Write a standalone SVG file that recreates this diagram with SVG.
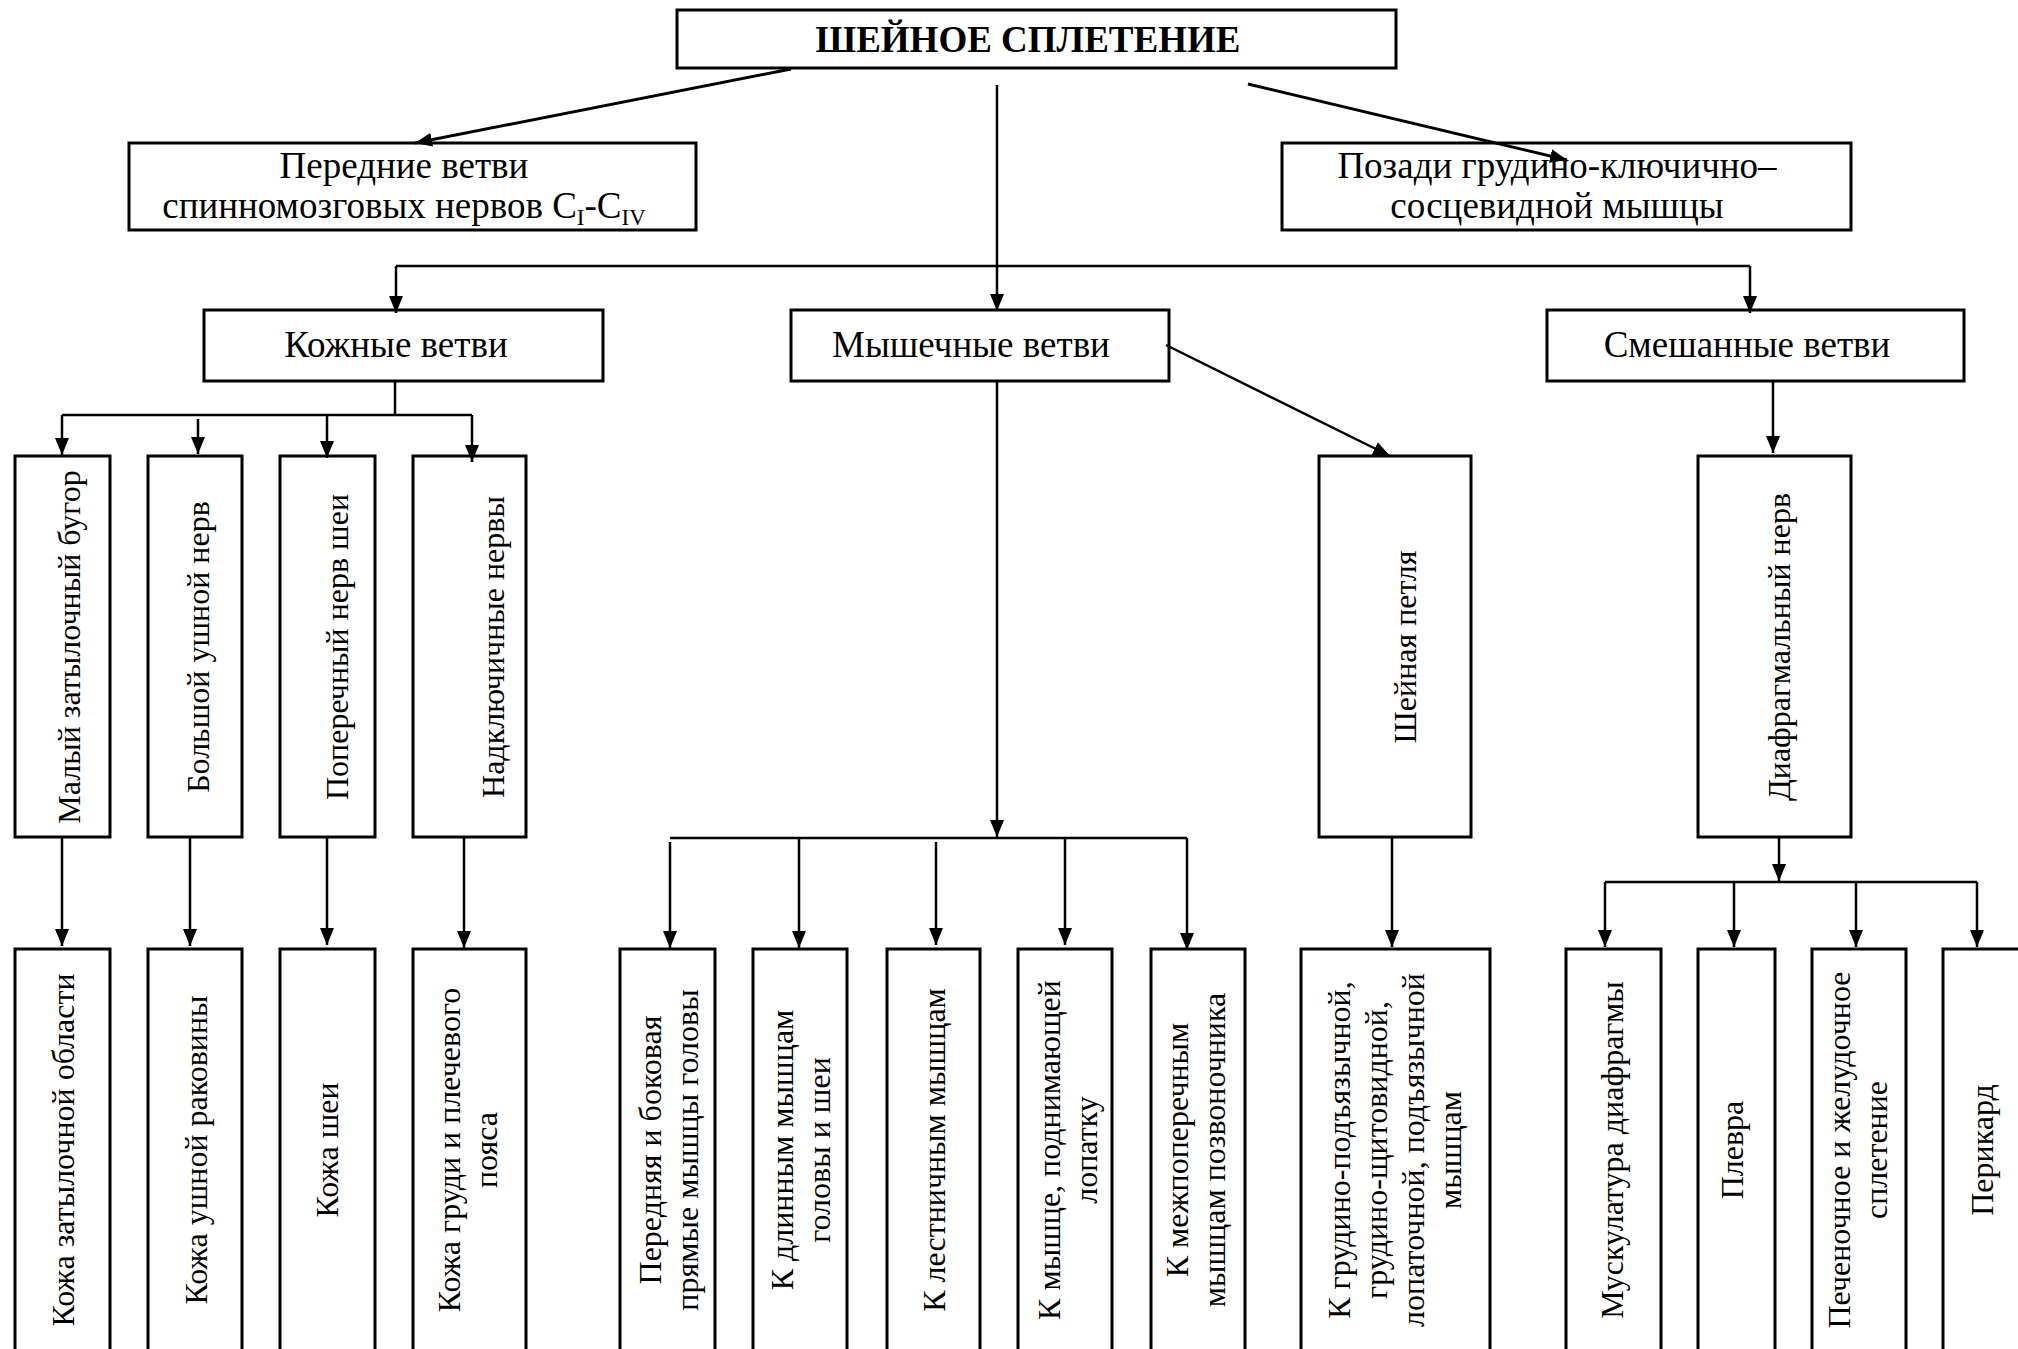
<svg xmlns="http://www.w3.org/2000/svg" width="2018" height="1349" viewBox="0 0 2018 1349">
  <style>
    .box { fill: #fff; stroke: #000; stroke-width: 3; }
    .c { fill: none; stroke: #000; stroke-width: 2.5; }
    .d { fill: none; stroke: #000; stroke-width: 3; }
    .a { marker-end: url(#arr); }
    .h { font-family: "Liberation Serif", "Times New Roman", serif; font-size: 37px; text-anchor: middle; fill: #000; }
    .t { font-weight: bold; }
    .v { font-family: "Liberation Serif", "Times New Roman", serif; font-size: 32px; text-anchor: middle; fill: #000; }
  </style>
  <defs>
    <marker id="arr" markerUnits="userSpaceOnUse" markerWidth="18" markerHeight="14" refX="17" refY="7" orient="auto">
      <path d="M0,0 L17,7 L0,14 z" fill="#000"/>
    </marker>
  </defs>
  <rect width="2018" height="1349" fill="#fff"/>

  <!-- top level -->
  <g id="n-plexus">
    <rect class="box" x="677" y="10" width="719" height="58"/>
    <text class="h t" x="1028" y="52">ШЕЙНОЕ СПЛЕТЕНИЕ</text>
  </g>
  <g id="n-anterior">
    <rect class="box" x="129" y="143" width="567" height="87"/>
    <text class="h" x="404" y="178">Передние ветви</text>
    <text class="h" x="404" y="218">спинномозговых нервов C<tspan font-size="23" dy="7">I</tspan><tspan dy="-7">-C</tspan><tspan font-size="23" dy="7">IV</tspan></text>
  </g>
  <g id="n-behind">
    <rect class="box" x="1282" y="143" width="569" height="87"/>
    <text class="h" x="1557" y="178">Позади грудино-ключично–</text>
    <text class="h" x="1557" y="218">сосцевидной мышцы</text>
  </g>

  <!-- branch groups -->
  <g id="n-cutaneous">
    <rect class="box" x="204" y="310" width="399" height="71"/>
    <text class="h" x="396" y="357">Кожные ветви</text>
  </g>
  <g id="n-muscular">
    <rect class="box" x="791" y="310" width="378" height="71"/>
    <text class="h" x="971" y="357">Мышечные ветви</text>
  </g>
  <g id="n-mixed">
    <rect class="box" x="1547" y="310" width="417" height="71"/>
    <text class="h" x="1747" y="357">Смешанные ветви</text>
  </g>

  <!-- nerves -->
  <g id="n-lesser-occipital">
    <rect class="box" x="15" y="456" width="95" height="381"/>
    <text class="v" transform="translate(80,647) rotate(-90)">Малый затылочный бугор</text>
  </g>
  <g id="n-great-auricular">
    <rect class="box" x="148" y="456" width="94" height="381"/>
    <text class="v" transform="translate(209,647) rotate(-90)">Большой ушной нерв</text>
  </g>
  <g id="n-transverse">
    <rect class="box" x="280" y="456" width="95" height="381"/>
    <text class="v" transform="translate(348,647) rotate(-90)">Поперечный нерв шеи</text>
  </g>
  <g id="n-supraclavicular">
    <rect class="box" x="413" y="456" width="113" height="381"/>
    <text class="v" transform="translate(504,647) rotate(-90)">Надключичные нервы</text>
  </g>
  <g id="n-ansa">
    <rect class="box" x="1319" y="456" width="152" height="381"/>
    <text class="v" transform="translate(1416,647) rotate(-90)">Шейная петля</text>
  </g>
  <g id="n-phrenic">
    <rect class="box" x="1698" y="456" width="153" height="381"/>
    <text class="v" transform="translate(1790,647) rotate(-90)">Диафрагмальный нерв</text>
  </g>

  <!-- targets -->
  <g id="n-skin-occipital">
    <rect class="box" x="15" y="949" width="95" height="420"/>
    <text class="v" transform="translate(74,1150) rotate(-90)">Кожа затылочной области</text>
  </g>
  <g id="n-skin-auricle">
    <rect class="box" x="148" y="949" width="94" height="420"/>
    <text class="v" transform="translate(207,1150) rotate(-90)">Кожа ушной раковины</text>
  </g>
  <g id="n-skin-neck">
    <rect class="box" x="280" y="949" width="95" height="420"/>
    <text class="v" transform="translate(338,1150) rotate(-90)">Кожа шеи</text>
  </g>
  <g id="n-skin-chest">
    <rect class="box" x="413" y="949" width="113" height="420"/>
    <text class="v" transform="translate(460,1150) rotate(-90)"><tspan x="0" y="0">Кожа груди и плечевого</tspan><tspan x="0" y="37">пояса</tspan></text>
  </g>
  <g id="n-rectus-capitis">
    <rect class="box" x="620" y="949" width="95" height="420"/>
    <text class="v" transform="translate(661,1150) rotate(-90)"><tspan x="0" y="0">Передняя и боковая</tspan><tspan x="0" y="37">прямые мышцы головы</tspan></text>
  </g>
  <g id="n-longus">
    <rect class="box" x="753" y="949" width="94" height="420"/>
    <text class="v" transform="translate(793,1150) rotate(-90)"><tspan x="0" y="0">К длинным мышцам</tspan><tspan x="0" y="37">головы и шеи</tspan></text>
  </g>
  <g id="n-scalene">
    <rect class="box" x="887" y="949" width="93" height="420"/>
    <text class="v" transform="translate(945,1150) rotate(-90)">К лестничным мышцам</text>
  </g>
  <g id="n-levator">
    <rect class="box" x="1018" y="949" width="94" height="420"/>
    <text class="v" transform="translate(1060,1150) rotate(-90)"><tspan x="0" y="0">К мышце, поднимающей</tspan><tspan x="0" y="37">лопатку</tspan></text>
  </g>
  <g id="n-intertransverse">
    <rect class="box" x="1151" y="949" width="94" height="420"/>
    <text class="v" transform="translate(1188,1150) rotate(-90)"><tspan x="0" y="0">К межпоперечным</tspan><tspan x="0" y="37">мышцам позвоночника</tspan></text>
  </g>
  <g id="n-infrahyoid">
    <rect class="box" x="1301" y="949" width="189" height="420"/>
    <text class="v" transform="translate(1350,1150) rotate(-90)"><tspan x="0" y="0">К грудино-подъязычной,</tspan><tspan x="0" y="37">грудино-щитовидной,</tspan><tspan x="0" y="74">лопаточной, подъязычной</tspan><tspan x="0" y="111">мышцам</tspan></text>
  </g>
  <g id="n-diaphragm">
    <rect class="box" x="1566" y="949" width="95" height="420"/>
    <text class="v" transform="translate(1623,1150) rotate(-90)">Мускулатура диафрагмы</text>
  </g>
  <g id="n-pleura">
    <rect class="box" x="1698" y="949" width="77" height="420"/>
    <text class="v" transform="translate(1743,1150) rotate(-90)">Плевра</text>
  </g>
  <g id="n-hepatic-gastric">
    <rect class="box" x="1812" y="949" width="94" height="420"/>
    <text class="v" transform="translate(1850,1150) rotate(-90)"><tspan x="0" y="0">Печеночное и желудочное</tspan><tspan x="0" y="37">сплетение</tspan></text>
  </g>
  <g id="n-pericardium">
    <rect class="box" x="1943" y="949" width="100" height="420"/>
    <text class="v" transform="translate(1993,1150) rotate(-90)">Перикард</text>
  </g>

  <!-- connectors -->
  <g id="connectors">
    <line class="d a" x1="791" y1="69" x2="415" y2="143"/>
    <line class="d a" x1="1248" y1="84" x2="1567" y2="160"/>

    <line class="c a" x1="997" y1="85" x2="997" y2="311"/>
    <line class="c" x1="396" y1="266" x2="1750" y2="266"/>
    <line class="c a" x1="396" y1="266" x2="396" y2="313"/>
    <line class="c a" x1="1750" y1="266" x2="1750" y2="313"/>

    <!-- cutaneous -->
    <line class="c" x1="395" y1="381" x2="395" y2="415"/>
    <line class="c" x1="62" y1="415" x2="472" y2="415"/>
    <line class="c a" x1="62" y1="415" x2="62" y2="455"/>
    <line class="c a" x1="198" y1="419" x2="198" y2="454"/>
    <line class="c a" x1="327" y1="415" x2="327" y2="458"/>
    <line class="c a" x1="472" y1="415" x2="472" y2="462"/>

    <line class="c a" x1="62" y1="837" x2="62" y2="946"/>
    <line class="c a" x1="190" y1="837" x2="190" y2="946"/>
    <line class="c a" x1="327" y1="837" x2="327" y2="945"/>
    <line class="c a" x1="464" y1="837" x2="464" y2="948"/>

    <!-- muscular -->
    <line class="c a" x1="997" y1="381" x2="997" y2="837"/>
    <line class="c" x1="670" y1="838" x2="1187" y2="838"/>
    <line class="c a" x1="670" y1="842" x2="670" y2="948"/>
    <line class="c a" x1="799" y1="838" x2="799" y2="948"/>
    <line class="c a" x1="936" y1="842" x2="936" y2="945"/>
    <line class="c a" x1="1065" y1="838" x2="1065" y2="945"/>
    <line class="c a" x1="1187" y1="838" x2="1187" y2="950"/>
    <line class="c a" x1="1166" y1="345" x2="1390" y2="456"/>
    <line class="c a" x1="1392" y1="837" x2="1392" y2="947"/>

    <!-- mixed -->
    <line class="c a" x1="1773" y1="381" x2="1773" y2="453"/>
    <line class="c a" x1="1779" y1="837" x2="1779" y2="881"/>
    <line class="c" x1="1605" y1="882" x2="1977" y2="882"/>
    <line class="c a" x1="1605" y1="882" x2="1605" y2="947"/>
    <line class="c a" x1="1734" y1="882" x2="1734" y2="947"/>
    <line class="c a" x1="1856" y1="882" x2="1856" y2="947"/>
    <line class="c a" x1="1977" y1="882" x2="1977" y2="947"/>
  </g>
</svg>
